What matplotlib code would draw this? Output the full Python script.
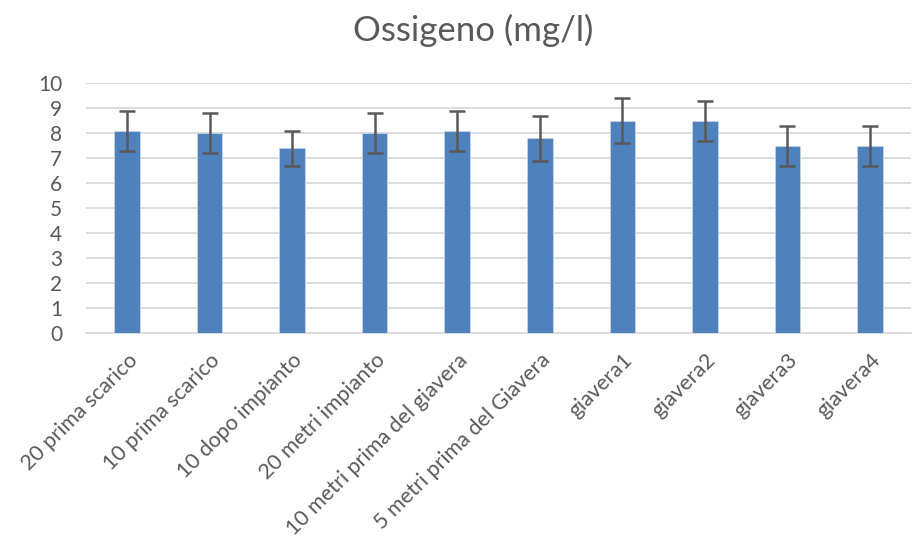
import matplotlib.pyplot as plt
import numpy as np

plt.rcParams['font.family'] = ['Lato', 'DejaVu Sans']

# Dati
siti = ["20 prima scarico", "10 prima scarico", "10 dopo impianto", "20 metri impianto",
        "10 metri prima del giavera", "5 metri prima del Giavera",
        "giavera1", "giavera2", "giavera3", "giavera4"]
ossigeno = [8.1, 8.0, 7.4, 8.0, 8.1, 7.8, 8.5, 8.5, 7.5, 7.5]
errore = [0.8, 0.8, 0.7, 0.8, 0.8, 0.9, 0.9, 0.8, 0.8, 0.8]

grigio = "#595959"

fig = plt.figure(figsize=(9.13, 5.48), dpi=100)
ax = fig.add_axes([0.094, 0.392, 0.904, 0.456])

x = np.arange(len(siti))
ax.bar(x, ossigeno, width=0.31, color="#4f81bd", edgecolor="#c5d3e8", linewidth=0.6, zorder=3)
ax.errorbar(x, ossigeno, yerr=errore, fmt='none', ecolor=grigio, elinewidth=1.8,
            capsize=5.5, capthick=1.8, zorder=4)

ax.set_xlim(-0.5, len(siti) - 0.5)
ax.set_ylim(0, 10)
ax.set_yticks(range(0, 11))
ax.grid(axis="y", color="#d9d9d9", lw=1.3, zorder=0)
ax.set_axisbelow(True)

for s in ["top", "right", "left"]:
    ax.spines[s].set_visible(False)
ax.spines["bottom"].set_color("#d9d9d9")
ax.spines["bottom"].set_linewidth(1.3)

ax.tick_params(axis="y", length=0, colors=grigio, labelsize=15, pad=17)
ax.tick_params(axis="x", length=0, colors=grigio, labelsize=15.5, pad=12)
ax.set_xticks(x)
ax.set_xticklabels(siti, rotation=45, ha="right", rotation_mode="anchor")

fig.text(0.518, 0.945, "Ossigeno (mg/l)", ha="center", va="center", fontsize=25, color=grigio)

fig.savefig("out.png", dpi=100)
